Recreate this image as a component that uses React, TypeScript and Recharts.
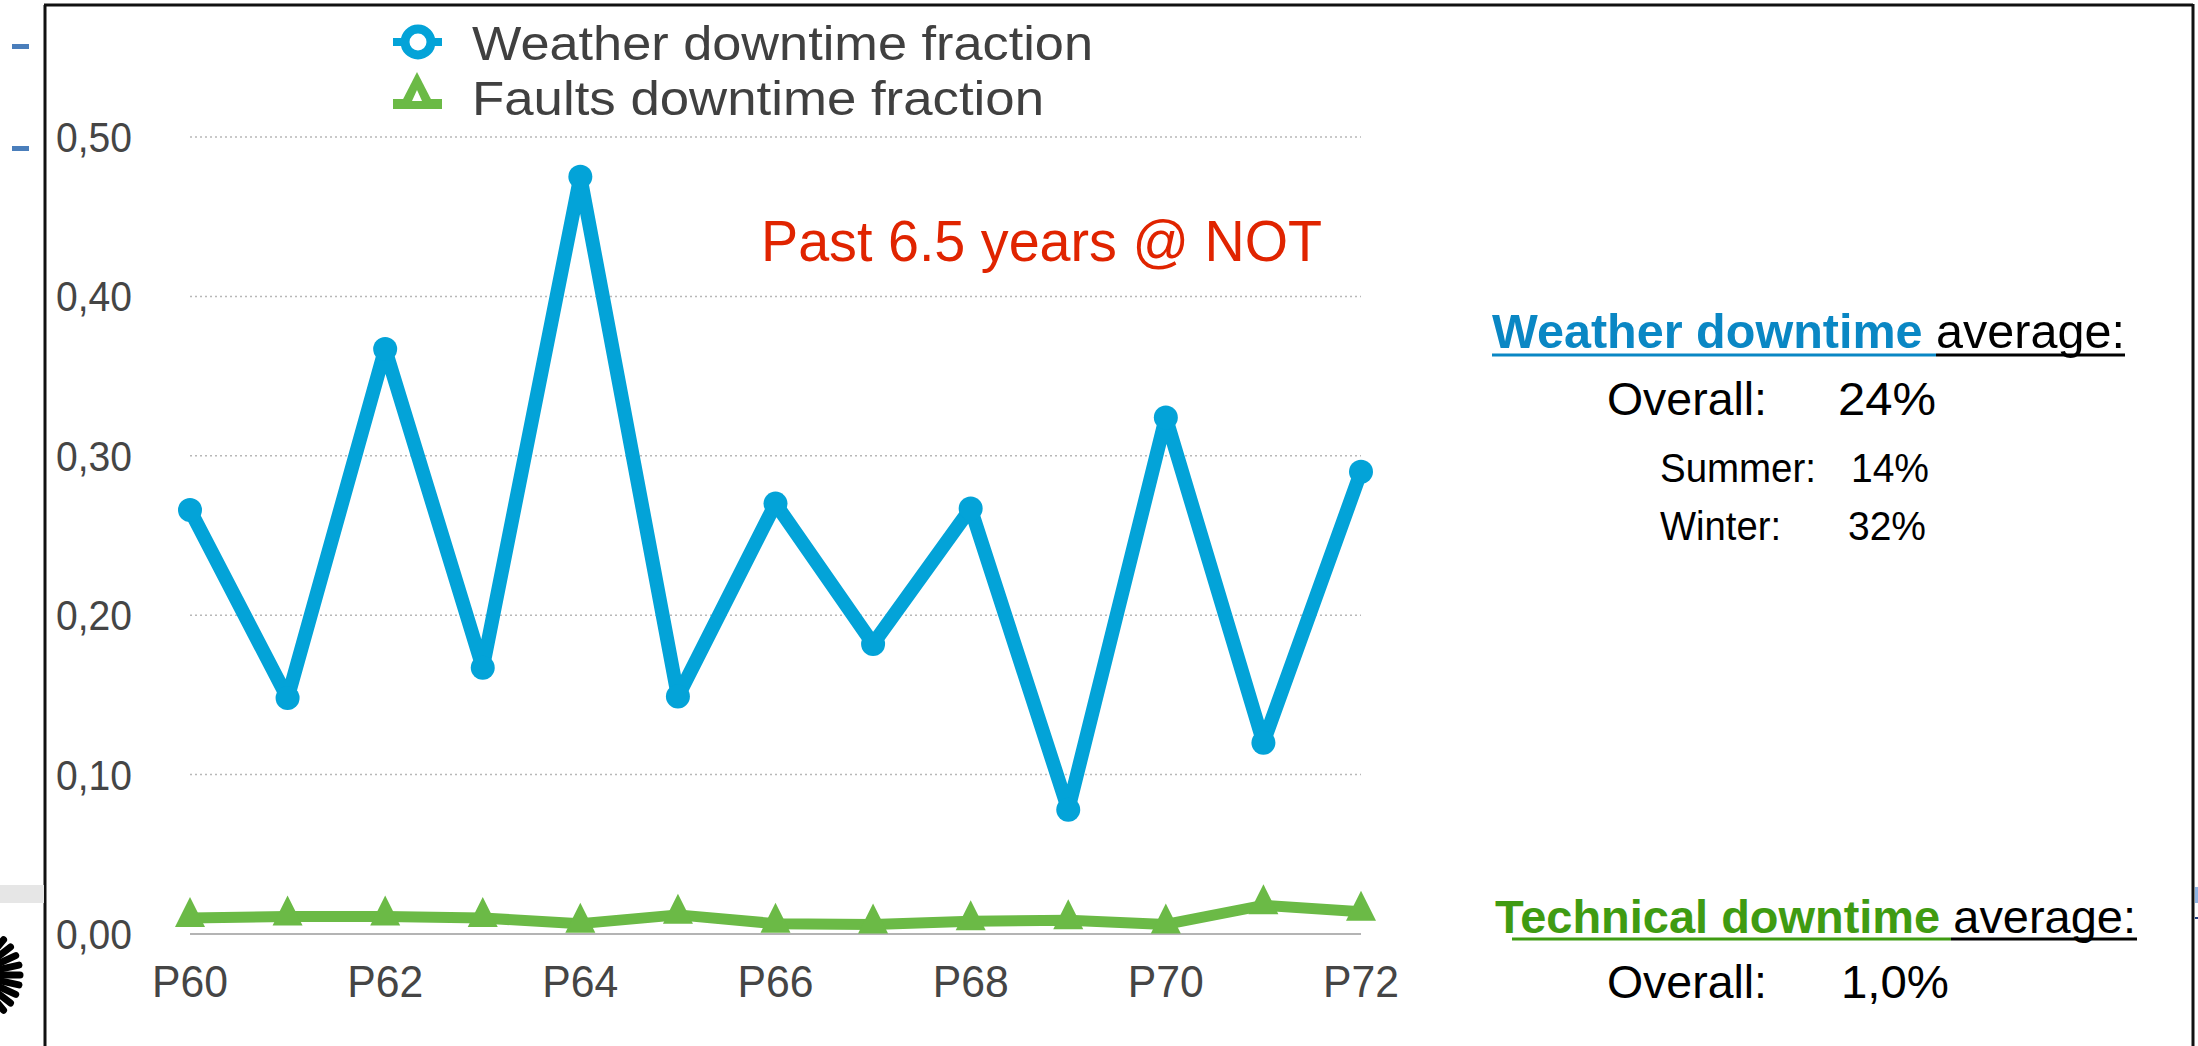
import { LineChart, Line, XAxis, YAxis, CartesianGrid } from 'recharts';

const periods = ['P60', 'P61', 'P62', 'P63', 'P64', 'P65', 'P66', 'P67', 'P68', 'P69', 'P70', 'P71', 'P72'];
const weatherFraction = [0.266, 0.148, 0.367, 0.167, 0.475, 0.149, 0.270, 0.182, 0.267, 0.078, 0.324, 0.120, 0.290];
const faultsFraction = [0.010, 0.011, 0.011, 0.010, 0.0065, 0.012, 0.0065, 0.006, 0.008, 0.0086, 0.006, 0.018, 0.014];
const yTicks = [0, 0.1, 0.2, 0.3, 0.4, 0.5];

const data = periods.map((p, i) => ({ period: p, weather: weatherFraction[i], faults: faultsFraction[i] }));

const BLUE = '#03A3D8';
const GREEN = '#6BBA46';
const AXIS_TEXT = '#454545';
const FONT = '"Liberation Sans", Arial, Helvetica, sans-serif';

function YTick({ x, y, payload }: any) {
  return (
    <text x={x} y={y} dy={15} textAnchor="end" fontSize={43} fontFamily={FONT} fill={AXIS_TEXT}
      textLength={76} lengthAdjust="spacingAndGlyphs">
      {Number(payload.value).toFixed(2).replace('.', ',')}
    </text>
  );
}

function XTick({ x, y, payload }: any) {
  return (
    <text x={x} y={y} dy={32} textAnchor="middle" fontSize={44} fontFamily={FONT} fill={AXIS_TEXT}
      textLength={76} lengthAdjust="spacingAndGlyphs">
      {payload.value}
    </text>
  );
}

function TriangleDot({ cx, cy, index }: any) {
  if (cx == null || cy == null) return null;
  return (
    <polygon key={`tri-${index}`}
      points={`${cx - 15},${cy + 9} ${cx + 15},${cy + 9} ${cx},${cy - 21}`}
      fill={GREEN} />
  );
}

// text squeezed to the measured width (the slide text is a bit condensed)
function Txt({ x, y, w, size, fill = '#000', weight = 'normal', children }: any) {
  return (
    <text x={x} y={y} fontSize={size} fill={fill} fontWeight={weight} fontFamily={FONT}
      textLength={w} lengthAdjust="spacingAndGlyphs">
      {children}
    </text>
  );
}

const spokes = [-75, -62.5, -50, -37.5, -25, -12.5, 0, 12.5, 25, 37.5, 50, 62.5, 75];

export default function App() {
  return (
    <div style={{ position: 'absolute', left: 0, top: 0, width: 2198, height: 1046, background: '#fff', overflow: 'hidden' }}>
      <div style={{ position: 'absolute', left: 0, top: 0 }}>
        <LineChart width={1400} height={1046} data={data} margin={{ top: 137, right: 39, bottom: 12, left: 40 }}>
          <CartesianGrid vertical={false} stroke="#b8b8b8" strokeDasharray="2 3" strokeWidth={1.5} />
          <XAxis
            dataKey="period"
            interval={1}
            tickLine={false}
            axisLine={{ stroke: '#b4b4b4', strokeWidth: 2 }}
            tickSize={6}
            tickMargin={25}
            height={100}
            tick={(props: any) => <XTick {...props} />}
          />
          <YAxis
            domain={[0, 0.5]}
            ticks={yTicks}
            interval={0}
            axisLine={false}
            tickLine={false}
            width={150}
            tickSize={8}
            tickMargin={50}
            tick={(props: any) => <YTick {...props} />}
          />
          <Line
            type="linear"
            dataKey="weather"
            stroke={BLUE}
            strokeWidth={14}
            strokeLinejoin="round"
            dot={{ r: 12, fill: BLUE, stroke: BLUE, strokeWidth: 0 }}
            activeDot={false}
            isAnimationActive={false}
          />
          <Line
            type="linear"
            dataKey="faults"
            stroke={GREEN}
            strokeWidth={11}
            strokeLinejoin="round"
            dot={(props: any) => <TriangleDot {...props} />}
            activeDot={false}
            isAnimationActive={false}
          />
        </LineChart>
      </div>

      <svg width={2198} height={1046} style={{ position: 'absolute', left: 0, top: 0, pointerEvents: 'none' }}>
        {/* slide frame and bits of the surrounding slide */}
        <line x1={45} y1={5} x2={45} y2={1046} stroke="#111" strokeWidth={3} />
        <line x1={44} y1={5} x2={2193} y2={5} stroke="#111" strokeWidth={3} />
        <line x1={2193} y1={4} x2={2193} y2={1046} stroke="#111" strokeWidth={3} />
        <rect x={0} y={885} width={44} height={18} fill="#e6e6e6" />
        <rect x={2195} y={887} width={3} height={16} fill="#8fb4e3" />
        <rect x={2195} y={917} width={3} height={2} fill="#1f3f7f" />
        <rect x={12} y={44} width={17} height={5} fill="#4a7ebb" />
        <rect x={12} y={146} width={17} height={5} fill="#4a7ebb" />
        {spokes.map((a) => {
          const r = (a * Math.PI) / 180;
          return (
            <line key={a} x1={-26 + 22 * Math.cos(r)} y1={975 + 22 * Math.sin(r)}
              x2={-26 + 46 * Math.cos(r)} y2={975 + 46 * Math.sin(r)}
              stroke="#000" strokeWidth={7} strokeLinecap="round" />
          );
        })}

        {/* legend */}
        <rect x={393} y={38} width={49} height={8} fill={BLUE} />
        <circle cx={418} cy={42} r={13} fill="#fff" stroke={BLUE} strokeWidth={9} />
        <rect x={393} y={99} width={49} height={10} fill={GREEN} />
        <polygon points="398,109 436,109 417,72" fill={GREEN} />
        <polygon points="412,101 422,101 417,90" fill="#fff" />
        <Txt x={472} y={60} w={621} size={49} fill="#404040">Weather downtime fraction</Txt>
        <Txt x={472} y={115} w={572} size={49} fill="#404040">Faults downtime fraction</Txt>

        <Txt x={761} y={261} w={561} size={58} fill="#E02400">Past 6.5 years @ NOT</Txt>

        {/* weather averages */}
        <text x={1492} y={348} fontSize={48} fontFamily={FONT} textLength={633} lengthAdjust="spacingAndGlyphs">
          <tspan fill="#0A87C4" fontWeight="bold">Weather downtime</tspan>
          <tspan fill="#000"> average:</tspan>
        </text>
        <line x1={1492} y1={355} x2={1936} y2={355} stroke="#0A87C4" strokeWidth={3} />
        <line x1={1936} y1={355} x2={2125} y2={355} stroke="#000" strokeWidth={3} />
        <Txt x={1607} y={415} w={160} size={47}>Overall:</Txt>
        <Txt x={1838} y={415} w={98} size={47}>24%</Txt>
        <Txt x={1660} y={482} w={156} size={40}>Summer:</Txt>
        <Txt x={1851} y={482} w={78} size={40}>14%</Txt>
        <Txt x={1660} y={540} w={121} size={40}>Winter:</Txt>
        <Txt x={1848} y={540} w={78} size={40}>32%</Txt>

        {/* technical averages */}
        <text x={1495} y={933} fontSize={46} fontFamily={FONT} textLength={641} lengthAdjust="spacingAndGlyphs">
          <tspan fill="#3F9B12" fontWeight="bold">Technical downtime</tspan>
          <tspan fill="#000"> average:</tspan>
        </text>
        <line x1={1512} y1={939} x2={1951} y2={939} stroke="#3F9B12" strokeWidth={3} />
        <line x1={1951} y1={939} x2={2137} y2={939} stroke="#000" strokeWidth={3} />
        <Txt x={1607} y={998} w={160} size={46}>Overall:</Txt>
        <Txt x={1841} y={998} w={108} size={46}>1,0%</Txt>
      </svg>
    </div>
  );
}
